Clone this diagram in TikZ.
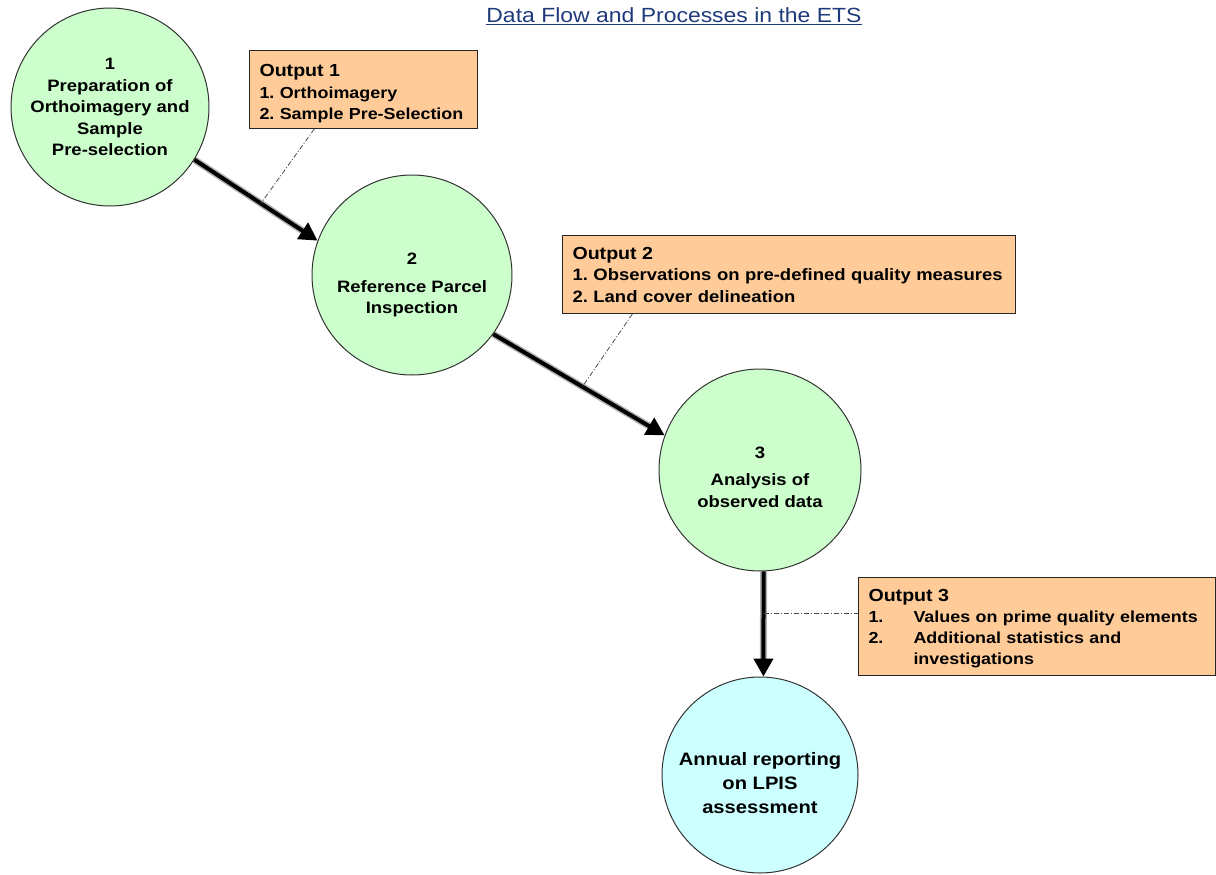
\documentclass[tikz,border=0pt]{standalone}
\usepackage{fontspec}
\setmainfont[FakeStretch=1.12]{Liberation Sans}
\usepackage{xcolor}
\usepackage{tikz}
\usetikzlibrary{arrows.meta, calc}
\frenchspacing
\hyphenpenalty=10000
\exhyphenpenalty=10000
\definecolor{procgreen}{HTML}{CCFFCC}
\definecolor{reportcyan}{HTML}{CCFFFF}
\definecolor{outorange}{HTML}{FFCC99}
\definecolor{titleblue}{HTML}{1F3A7A}
\tikzstyle{process} = [circle, draw=black!80, line width=1pt, fill=procgreen, inner sep=0pt, align=center, font=\bfseries\fontsize{16.5}{21.5}\selectfont]
\tikzstyle{output} = [rectangle, draw=black!85, line width=1pt, fill=outorange, anchor=north west, inner xsep=10pt, inner ysep=0pt, align=left, font=\bfseries\fontsize{16.5}{21.5}\selectfont]
\tikzstyle{flow} = [line width=4pt, -{Triangle[length=18pt,width=19pt]}, preaction={draw=gray!60, line width=7pt, -, shorten >=14pt}]
\tikzstyle{callout} = [draw=black!70, line width=0.8pt, dash pattern=on 5pt off 2pt on 1pt off 2pt]
\newcommand{\outhead}[1]{{\fontsize{17.5}{22}\selectfont #1}\rule[-6pt]{0pt}{6pt}}
\newcommand{\lift}[1]{\rule{0pt}{#1}}

\begin{document}
\begin{tikzpicture}[x=1pt, y=-1pt]
\useasboundingbox (0,0) rectangle (1216,875);

% Title
\node (title) at (674,16) [text=titleblue, font=\fontsize{20.5}{24}\selectfont] {\underline{Data Flow and Processes in the ETS}};

% Process circles
\node (c1) at (110,107) [process, minimum size=198pt] {1\\Preparation of\\Orthoimagery and\\Sample\\Pre-selection};
\node (c2) at (412,275) [process, minimum size=200pt] {\lift{32pt}2\\[6pt]Reference Parcel\\Inspection};
\node (c3) at (760,470) [process, minimum size=202pt] {\lift{26pt}3\\[6pt]Analysis of\\observed data};
\node (c4) at (760,775) [process, fill=reportcyan, minimum size=196pt, font=\bfseries\fontsize{18}{24}\selectfont] {\lift{30pt}Annual reporting\\on LPIS\\assessment};

% Outputs
\node (out1) at (249,50) [output, text width=208pt, minimum width=228pt, minimum height=78pt, font=\bfseries\fontsize{16}{21.5}\selectfont] {\lift{21pt}\outhead{Output 1}\\1. Orthoimagery\\2. Sample~Pre-Selection};
\node (out2) at (562,235) [output, text width=433pt, minimum width=453pt, minimum height=78pt] {\outhead{Output 2}\\1. Observations on pre-defined quality measures\\2. Land cover delineation};
\node (out3) at (858,577) [output, text width=337pt, minimum width=357pt, minimum height=98pt, font=\bfseries\fontsize{16}{21}\selectfont] {\lift{17pt}\outhead{Output 3}\\\makebox[45pt][l]{1.}Values on prime quality elements\\\makebox[45pt][l]{2.}Additional statistics and\\\hspace*{45pt}investigations};

% Flow arrows
\draw [flow] (c1.-32) -- coordinate[pos=0.54] (p1) (c2.160);
\draw [flow] (c2.-36) -- coordinate[pos=0.52] (p2) (c3.160);
\draw [flow] (c3.-88) -- coordinate[pos=0.4] (p3) (c4.88);

% Callout lines
\draw [callout] ($(out1.south west)!0.285!(out1.south east)$) -- (p1);
\draw [callout] ($(out2.south west)!0.155!(out2.south east)$) -- (p2);
\draw [callout] (p3) -- (p3 -| out3.west);

\end{tikzpicture}
\end{document}
